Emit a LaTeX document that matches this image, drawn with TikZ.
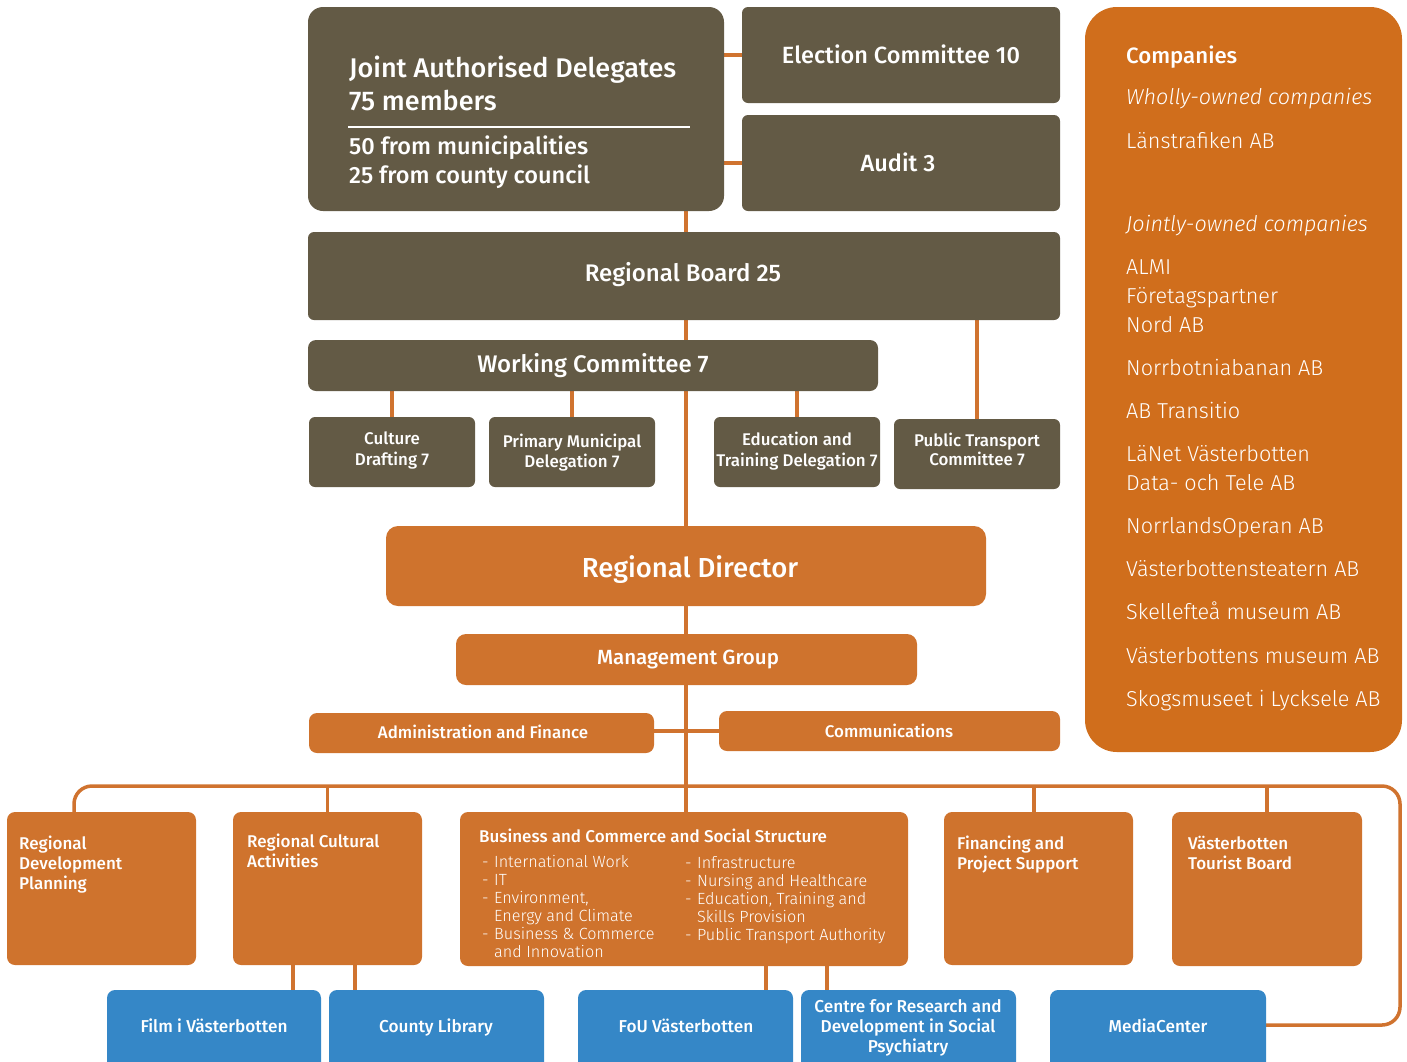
\documentclass[tikz,border=0pt]{standalone}
\usepackage{fontspec}
\setmainfont{Fira Sans}[BoldFont={Fira Sans Medium}]
\newfontfamily\lightf{Fira Sans Light}[ItalicFont={Fira Sans Light Italic}]
\usetikzlibrary{fit,backgrounds}
\definecolor{brownc}{HTML}{635A45}
\definecolor{orangec}{HTML}{CF732D}
\definecolor{compc}{HTML}{D06E1C}
\definecolor{bluec}{HTML}{3587C7}
\definecolor{linec}{HTML}{D0732F}
\newcommand\setfs[1]{\fontsize{#1}{#1}\selectfont}
\begin{document}
\begin{tikzpicture}[x=1pt,y=-1pt,
  box/.style={inner sep=0pt, outer sep=0pt, draw=none},
  brn/.style={box, fill=brownc, rounded corners=#1}, brn/.default=6,
  org/.style={box, fill=orangec, rounded corners=#1}, org/.default=8,
  blu/.style={box, fill=bluec, rounded corners=#1}, blu/.default=8,
  tw/.style={text=white, inner sep=0pt, anchor=base, font=\bfseries\setfs{#1}},
  tl/.style={tw=#1, anchor=base west},
  li/.style={text=white, inner sep=0pt, anchor=base west, font=\lightf\setfs{#1}},
  lii/.style={text=white, inner sep=0pt, anchor=base west, font=\lightf\itshape\setfs{#1}},
  conn/.style={draw=linec, line width=3.5pt}
]
\useasboundingbox (0,0) rectangle (1407,1061);
\clip (0,0) rectangle (1407,1061);

% ---------- boxes ----------
\node[brn=15, fit={(308,7)(724,211)}] (jad) {};
\node[brn=6, fit={(742,7)(1060,103)}] (elec) {};
\node[brn=6, fit={(742,115)(1060,211)}] (aud) {};
\node[brn=6, fit={(308,232)(1060,320)}] (board) {};
\node[brn=8, fit={(308,340)(878,391)}] (wc) {};
\node[brn=6, fit={(309,417)(475,487)}] (cult) {};
\node[brn=6, fit={(489,417)(655,487)}] (prim) {};
\node[brn=6, fit={(714,417)(880,487)}] (edu) {};
\node[brn=6, fit={(894,419)(1060,489)}] (ptc) {};
\node[org=12, fit={(386,526)(986,606)}] (dir) {};
\node[org=10, fit={(456,634)(917,685)}] (mg) {};
\node[org=8, fit={(309,713)(654,753)}] (adm) {};
\node[org=8, fit={(719,711)(1060,751)}] (com) {};
\node[org=8, fit={(7,812)(196,965)}] (rdp) {};
\node[org=8, fit={(233,812)(422,965)}] (rca) {};
\node[org=8, fit={(460,812)(908,966)}] (biz) {};
\node[org=8, fit={(944,812)(1133,965)}] (fin) {};
\node[org=8, fit={(1172,812)(1362,966)}] (tour) {};
\node[blu=8, fit={(107,990)(321,1080)}] (film) {};
\node[blu=8, fit={(329,990)(544,1080)}] (lib) {};
\node[blu=8, fit={(578,990)(793,1080)}] (fou) {};
\node[blu=8, fit={(801,990)(1016,1080)}] (cen) {};
\node[blu=8, fit={(1050,990)(1266,1080)}] (med) {};
\node[box, fill=compc, rounded corners=32, fit={(1085,7)(1402,752)}] (comp) {};

% ---------- connectors ----------
\coordinate (sp) at (686,0);
\coordinate (bl) at (74,786);
\coordinate (br) at (1400,786);
\coordinate (fd) at ([xshift=-4.5]fin.north);
\coordinate (f1) at ([xshift=-34.5]rca.south);
\coordinate (f2) at ([xshift=27.5]rca.south);
\coordinate (f3) at ([xshift=82]biz.south);
\coordinate (f4) at ([xshift=143]biz.south);
\coordinate (me) at ([yshift=10]med.east);
\begin{scope}[on background layer]
  \draw[conn] (jad.east |- elec.west) -- (elec.west);
  \draw[conn] (jad.east |- aud.west) -- (aud.west);
  \draw[conn] (jad.south -| sp) -- (biz.north -| sp);
  \draw[conn] (cult.north) -- (cult.north |- wc.south);
  \draw[conn] (prim.north) -- (prim.north |- wc.south);
  \draw[conn] (edu.north) -- (edu.north |- wc.south);
  \draw[conn] (ptc.north) -- (ptc.north |- board.south);
  \draw[conn] (adm.east |- com.west) -- (com.west);
  \draw[conn, rounded corners=18] (rdp.north -| bl) |- (br) |- (me);
  \draw[conn] (rca.north) -- (rca.north |- bl);
  \draw[conn] (fd) -- (fd |- bl);
  \draw[conn] (tour.north) -- (tour.north |- bl);
  \draw[conn] (f1) -- (f1 |- film.north);
  \draw[conn] (f2) -- (f2 |- lib.north);
  \draw[conn] (f3) -- (f3 |- fou.north);
  \draw[conn] (f4) -- (f4 |- cen.north);
\end{scope}

% ---------- texts ----------
\node[tl=27] (jad1) at (349,77) {Joint Authorised Delegates};
\node[tl=27] (jad2) at (349,110) {75 members};
\draw[white, line width=2pt] (348,127) -- (690,127);
\node[tl=23.5] (jad3) at (349,154) {50 from municipalities};
\node[tl=23.5] (jad4) at (349,183) {25 from county council};
\node[tw=23.5] (elect) at (901,63) {Election Committee 10};
\node[tw=23.5] (audt) at (898,171) {Audit 3};
\node[tw=24] (boardt) at (683,281) {Regional Board 25};
\node[tw=24] (wct) at (593,372) {Working Committee 7};
\node[tw=16.9] (cult1) at (392,444) {Culture};
\node[tw=16.9] (cult2) at (392,465) {Drafting 7};
\node[tw=16.9] (prim1) at (572,447) {Primary Municipal};
\node[tw=16.9] (prim2) at (572,467) {Delegation 7};
\node[tw=16.9] (edu1) at (797,445) {Education and};
\node[tw=16.9] (edu2) at (797,466) {Training Delegation 7};
\node[tw=16.9] (ptc1) at (977,446) {Public Transport};
\node[tw=16.9] (ptc2) at (977,465) {Committee 7};
\node[tw=27.5] (dirt) at (690,577) {Regional Director};
\node[tw=20.5] (mgt) at (688,664) {Management Group};
\node[tw=16.9] (admt) at (483,738) {Administration and Finance};
\node[tw=16.9] (comt) at (889,737) {Communications};

\node[tl=17] (rdp1) at (19,849) {Regional};
\node[tl=17] (rdp2) at (19,869) {Development};
\node[tl=17] (rdp3) at (19,889) {Planning};
\node[tl=17] (rca1) at (247,847) {Regional Cultural};
\node[tl=17] (rca2) at (247,867) {Activities};
\node[tl=17] (biz0) at (479,842) {Business and Commerce and Social Structure};
\node[tl=17] (fin1) at (957,849) {Financing and};
\node[tl=17] (fin2) at (957,869) {Project Support};
\node[tl=17] (tour1) at (1188,849) {Västerbotten};
\node[tl=17] (tour2) at (1188,869) {Tourist Board};

\foreach \n/\y/\d/\s in {a/867/-/International Work, b/885/-/IT, c/903/-/{Environment,}, d/921//Energy and Climate, e/939/-/Business \& Commerce, f/957//and Innovation}{
  \node[li=16.2] (bl\n) at (494,\y) {\s};
  \node[li=16.2] (bd\n) at (482,\y) {\d};
}
\foreach \n/\y/\d/\s in {a/868/-/Infrastructure, b/886/-/Nursing and Healthcare, c/904/-/{Education, Training and}, d/922//Skills Provision, e/940/-/Public Transport Authority}{
  \node[li=16.2] (br\n) at (697,\y) {\s};
  \node[li=16.2] (brd\n) at (685,\y) {\d};
}

\node[tw=17.2] (filmt) at (214,1032) {Film i Västerbotten};
\node[tw=17.2] (libt) at (436,1032) {County Library};
\node[tw=17.2] (fout) at (686,1032) {FoU Västerbotten};
\node[tw=17.2] (cen1) at (908,1012) {Centre for Research and};
\node[tw=17.2] (cen2) at (908,1032) {Development in Social};
\node[tw=17.2] (cen3) at (908,1052) {Psychiatry};
\node[tw=17.2] (medt) at (1158,1032) {MediaCenter};

\node[tl=22.2] (c0) at (1126,63) {Companies};
\node[lii=21.6] (cw) at (1126,104) {Wholly-owned companies};
\node[li=21.6] (c1) at (1126,148) {Länstrafiken AB};
\node[lii=21.6] (cj) at (1126,231) {Jointly-owned companies};
\foreach \i/\y/\s in {2/274/ALMI, 3/303/Företagspartner, 4/332/Nord AB, 5/375/Norrbotniabanan AB, 6/418/AB Transitio, 7/461/LäNet Västerbotten, 8/490/Data- och Tele AB, 9/533/NorrlandsOperan AB, 10/576/Västerbottensteatern AB, 11/619/Skellefteå museum AB, 12/663/Västerbottens museum AB, 13/706/Skogsmuseet i Lycksele AB}{
  \node[li=21.6] (c\i) at (1126,\y) {\s};
}
\end{tikzpicture}
\end{document}
